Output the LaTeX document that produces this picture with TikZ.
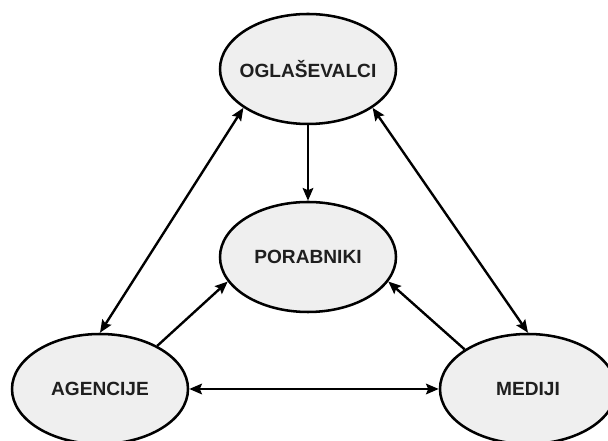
\documentclass[tikz,border=0pt]{standalone}
\usepackage{fontspec}
\setmainfont{Liberation Sans}
\usetikzlibrary{shapes.geometric,arrows.meta}
\definecolor{ellgray}{HTML}{EFEFEF}
\begin{document}
\begin{tikzpicture}

\tikzstyle{entity} = [ellipse,draw=black,line width=1.8pt,fill=ellgray,minimum width=4.4cm,minimum height=2.75cm,inner xsep=-10pt,inner ysep=0pt,text=black!88,font=\fontsize{13.6}{16}\selectfont\bfseries];
\tikzstyle{boldarrow} = [-{Stealth[length=9pt,width=7.5pt,inset=1.5pt]},line width=1.7pt];
\tikzstyle{twoarrow} = [{Stealth[length=9pt,width=7.5pt,inset=1.5pt]}-{Stealth[length=9pt,width=7.5pt,inset=1.5pt]},line width=1.7pt];

\useasboundingbox (0,0) rectangle (15.2,11.025);

\node[entity] (v1) at (7.7,9.3) {OGLAŠEVALCI};
\node[entity] (v2) at (7.7,4.6) {PORABNIKI};
\node[entity] (v3) at (2.5,1.3) {AGENCIJE};
\node[entity] (v4) at (13.2,1.3) {MEDIJI};

\draw [boldarrow] (v1) -- (v2);
\draw [twoarrow] (v1.211) -- (v3.north);
\draw [twoarrow] (v1.329) -- (v4.north);
\draw [twoarrow] (v3) -- (v4);
\draw [boldarrow] (v3.37) -- (v2.197);
\draw [boldarrow] (v4.148) -- (v2.343);
\end{tikzpicture}
\end{document}
